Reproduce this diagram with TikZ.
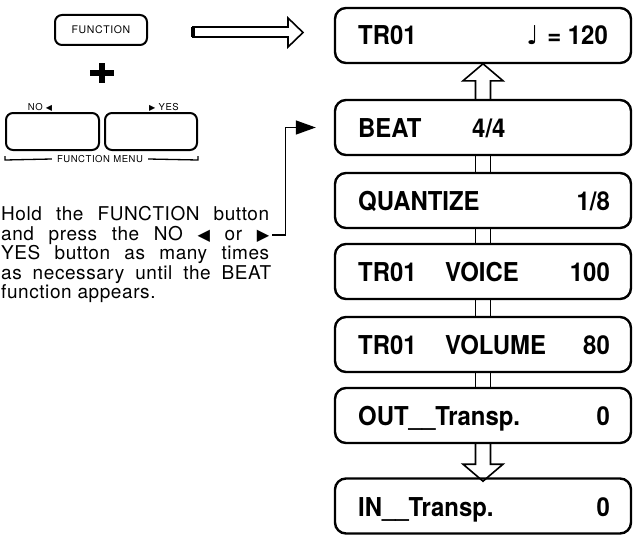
\documentclass[tikz,border=0pt]{standalone}
\usepackage{fontspec}
\setmainfont{TeX Gyre Heros}
\newfontfamily\boxfont{TeX Gyre Heros}[FakeStretch=0.92]
\newfontfamily\parafont{TeX Gyre Heros}[LetterSpace=3]
\newfontfamily\smallfont{TeX Gyre Heros}[LetterSpace=6]
\newfontfamily\symfont{DejaVu Sans}
\usetikzlibrary{arrows.meta, positioning, calc}
\newcommand{\noarr}{{\symfont\scalebox{0.85}{◀}}}
\newcommand{\yesarr}{{\symfont\scalebox{0.85}{▶}}}

\begin{document}
\begin{tikzpicture}[
  x=1pt, y=-1pt,
  disp/.style={draw, rounded corners=11pt, line width=2.4pt,
               minimum width=296pt, minimum height=55pt, inner sep=0pt},
  dtxt/.style={font=\boxfont\bfseries\fontsize{26}{26}\selectfont, inner sep=0pt},
  btn/.style={draw, rounded corners=7pt, line width=2pt, inner sep=0pt},
  small/.style={font=\smallfont\fontsize{9.5}{10}\selectfont, inner sep=0pt},
  para/.style={font=\parafont\fontsize{19}{19}\selectfont, inner sep=0pt, anchor=base west},
  hollow/.style={draw, line width=1.6pt, line join=miter},
  bar/.style={line width=1.6pt},
  arr/.style={-{Triangle[length=20pt, width=14pt]}, line width=1.4pt}
]
\useasboundingbox (0,0) rectangle (636,535);
% display boxes
\node[disp] (tr)     at (483, 35.5)  {};
\node[disp] (beat)   at (483, 127.5) {};
\node[disp] (quant)  at (483, 200.5) {};
\node[disp] (voice)  at (483, 271.5) {};
\node[disp] (volume) at (483, 344.5) {};
\node[disp] (outtr)  at (483, 415.5) {};
\node[disp] (intr)   at (483, 506)   {};
% display texts
\node[dtxt, anchor=base west] (trname) at (358, 45)  {TR01};
\node[dtxt, anchor=base east] (tempo)  at (608, 45)  {{\symfont ♩}\,\,= 120};
\node[dtxt, anchor=base west] (bname)  at (358, 137) {BEAT};
\node[dtxt, anchor=base west] (bval)   at (472, 137) {4/4};
\node[dtxt, anchor=base west] (qname)  at (358, 210) {QUANTIZE};
\node[dtxt, anchor=base east] (qval)   at (610, 210) {1/8};
\node[dtxt, anchor=base west] (vtr)    at (358, 281) {TR01};
\node[dtxt, anchor=base west] (vname)  at (445, 281) {VOICE};
\node[dtxt, anchor=base east] (vval)   at (610, 281) {100};
\node[dtxt, anchor=base west] (ltr)    at (358, 354) {TR01};
\node[dtxt, anchor=base west] (lname)  at (445, 354) {VOLUME};
\node[dtxt, anchor=base east] (lval)   at (610, 354) {80};
\node[dtxt, anchor=base west] (oname)  at (358, 425) {OUT\_\_Transp.};
\node[dtxt, anchor=base east] (oval)   at (610, 425) {0};
\node[dtxt, anchor=base west] (iname)  at (358, 516) {IN\_\_Transp.};
\node[dtxt, anchor=base east] (ival)   at (610, 516) {0};
% links between the boxes
\draw[hollow] ([xshift=-7.5pt]beat.north) -- ++(0,-18) -- ++(-12.5,0)
  -- ++(20,-17) -- ++(20,17) -- ++(-12.5,0) -- ++(0,18);
\foreach \a/\b in {beat/quant, quant/voice, voice/volume, volume/outtr}
  \foreach \s in {-7.5, 7.5}
    \draw[bar] ([xshift=\s pt]\a.south) -- ([xshift=\s pt]\b.north);
\draw[hollow] ([xshift=-7.5pt]outtr.south) -- ++(0,20) -- ++(-12.5,0)
  -- ++(20,17) -- ++(20,-17) -- ++(-12.5,0) -- ++(0,-20);
% panel buttons
\node[btn, minimum width=92pt, minimum height=30pt,
      font=\smallfont\fontsize{10.5}{11}\selectfont] (fnbtn) at (101, 30) {FUNCTION};
\draw[hollow] ([xshift=45pt, yshift=3pt]fnbtn.east) -- ++(95,0) -- ++(0,-9)
  -- ++(15,14.5) -- ++(-15,14.5) -- ++(0,-10) -- ++(-95,0) -- cycle;
\draw[line width=3.5pt] ([xshift=45pt, yshift=3pt]fnbtn.east) -- ++(0,10);
\coordinate (plus) at (102, 73);
\draw[line width=6pt] ([xshift=-12pt]plus) -- ([xshift=12pt]plus);
\draw[line width=6pt] ([yshift=10pt]plus) -- ([yshift=-10pt]plus);
\node[btn, minimum width=93pt, minimum height=37pt] (nobtn)  at (52.5, 131.5) {};
\node[btn, minimum width=92pt, minimum height=37pt] (yesbtn) at (151, 131.5)  {};
\node[small] (nolbl)  at (40, 107)  {NO \noarr};
\node[small] (yeslbl) at (164, 107) {\yesarr{} YES};
\node[small] (menu) at (100, 159) {FUNCTION MENU};
\draw[line width=1.3pt] ([yshift=-5pt]nobtn.south west) -- ([yshift=-9pt]nobtn.south west)
  -- ([xshift=-5pt]menu.west);
\draw[line width=1.3pt] ([yshift=-5pt]yesbtn.south east) -- ([yshift=-9pt]yesbtn.south east)
  -- ([xshift=5pt]menu.east);
% instruction text
\node[para] (l1) at (1, 220) {\makebox[268pt][s]{Hold the FUNCTION button}};
\node[para] (l2) at (1, 240) {\makebox[268pt][s]{and press the NO \noarr{} or \yesarr}};
\node[para] (l3) at (1, 259) {\makebox[268pt][s]{YES button as many times}};
\node[para] (l4) at (1, 279) {\makebox[270pt][s]{as necessary until the BEAT}};
\node[para] (l5) at (1, 298) {function appears.};
\draw[arr, shorten >=18pt] ([xshift=3pt]l2.east) -- ++(13,0) |- (beat.west);
\end{tikzpicture}
\end{document}
